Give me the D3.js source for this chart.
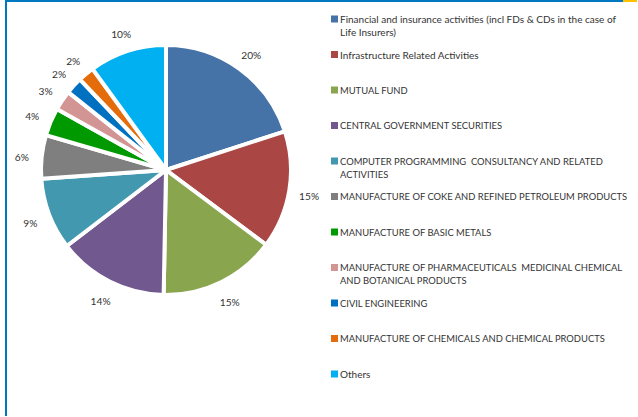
<!DOCTYPE html>
<html><head><meta charset="utf-8">
<script src="https://cdn.jsdelivr.net/npm/d3@7"></script>
<style>body{margin:0;background:#fff}svg{display:block}text{white-space:pre}</style>
</head><body>
<script>
const categories = [
  ["Financial and insurance activities (incl FDs & CDs in the case of", "Life Insurers)"],
  ["Infrastructure Related Activities"],
  ["MUTUAL FUND"],
  ["CENTRAL GOVERNMENT SECURITIES"],
  ["COMPUTER PROGRAMMING  CONSULTANCY AND RELATED", "ACTIVITIES"],
  ["MANUFACTURE OF COKE AND REFINED PETROLEUM PRODUCTS"],
  ["MANUFACTURE OF BASIC METALS"],
  ["MANUFACTURE OF PHARMACEUTICALS  MEDICINAL CHEMICAL", "AND BOTANICAL PRODUCTS"],
  ["CIVIL ENGINEERING"],
  ["MANUFACTURE OF CHEMICALS AND CHEMICAL PRODUCTS"],
  ["Others"]
];
const values = [20.0, 15.2, 15.1, 14.3, 9.3, 5.6, 3.6, 2.6, 2.2, 2.1, 10.0];
const labels = ["20%","15%","15%","14%","9%","6%","4%","3%","2%","2%","10%"];
const colors = ["#4572A7","#AA4643","#89A54E","#71588F","#4198AF","#7F7F7F","#009A00","#D39494","#0070C0","#E46C0A","#00B0F0"];

const W = 638, H = 417;
const svg = d3.select("body").append("svg").attr("width", W).attr("height", H);

// frame
svg.append("rect").attr("x",5).attr("y",0).attr("width",618).attr("height",2).attr("fill","#0078C1");
svg.append("rect").attr("x",623).attr("y",0).attr("width",14).attr("height",2).attr("fill","#FFC000");
svg.append("rect").attr("x",5).attr("y",0).attr("width",2).attr("height",416).attr("fill","#0078C1");

const cx = 166, cy = 170, r = 125;
const pie = d3.pie().sort(null).value(d => d);
const arcs = pie(values);
const arc = d3.arc().innerRadius(0).outerRadius(r);
const labelArc = d3.arc().innerRadius(145).outerRadius(145);

const g = svg.append("g").attr("transform", `translate(${cx},${cy})`);
g.selectAll("path").data(arcs).join("path")
  .attr("d", arc)
  .attr("fill", (d,i) => colors[i])
  .attr("stroke", "#fff")
  .attr("stroke-width", 4)
  .attr("stroke-linejoin", "round");

g.selectAll("text").data(arcs).join("text")
  .attr("transform", d => { const c = labelArc.centroid(d); return `translate(${c[0]},${c[1] + 2})`; })
  .attr("text-anchor", "middle")
  .attr("dominant-baseline", "central")
  .attr("font-family", "Lato, 'Open Sans', sans-serif")
  .attr("font-size", 10.2)
  .attr("fill", "#333")
  .text((d,i) => labels[i]);

// legend
const y = d3.scalePoint().domain(d3.range(categories.length)).range([19, 374]);
const lg = svg.append("g");
categories.forEach((lines, i) => {
  const yy = y(i);
  lg.append("rect").attr("x", 331).attr("y", yy - 3.5).attr("width", 7).attr("height", 7).attr("fill", colors[i]);
  const t = lg.append("text")
    .attr("font-family", "Lato, 'Open Sans', sans-serif")
    .attr("fill", "#333")
    .attr("xml:space", "preserve");
  lines.forEach((ln, j) => {
    const upper = ln === ln.toUpperCase();
    t.append("tspan").attr("x", 340).attr("y", yy + 13 * j)
      .attr("font-size", upper ? 9.4 : 10)
      .attr("dominant-baseline", "central").text(ln);
  });
});
</script>
</body></html>
